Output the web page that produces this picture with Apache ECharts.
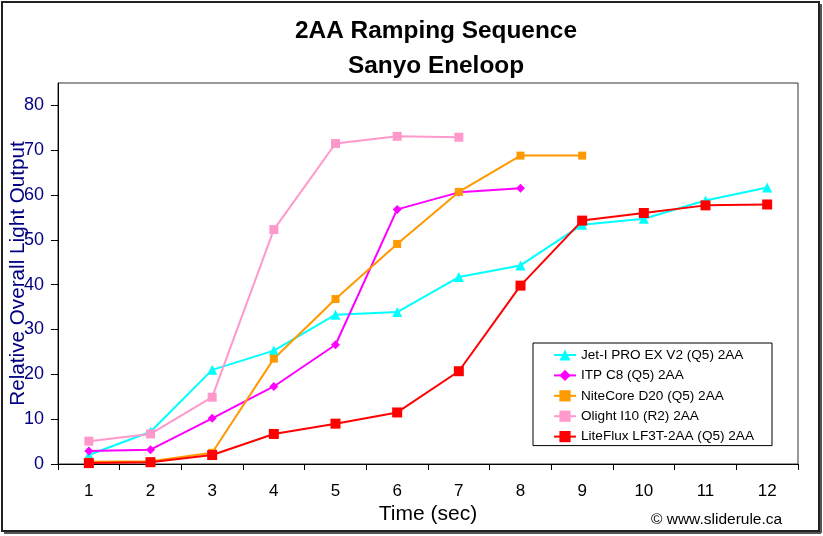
<!DOCTYPE html>
<html><head><meta charset="utf-8">
<script src="https://cdn.jsdelivr.net/npm/echarts@6/dist/echarts.min.js"></script>
<style>html,body{margin:0;padding:0;background:#fff}#c{width:823px;height:536px}</style>
</head><body><div id="c"></div>
<script>
const categories = ['1','2','3','4','5','6','7','8','9','10','11','12'];
const yTicks = [0, 10, 20, 30, 40, 50, 60, 70, 80];
const jetI = [2.0, 7.2, 21.0, 25.3, 33.3, 33.9, 41.7, 44.3, 53.4, 54.7, 58.8, 61.7];
const itpC8 = [2.9, 3.2, 10.2, 17.3, 26.6, 56.8, 60.6, 61.5];
const niteCore = [0.5, 0.6, 2.5, 23.5, 36.8, 49.1, 60.7, 68.8, 68.8];
const olight = [5.1, 6.7, 14.9, 52.3, 71.5, 73.1, 72.9];
const liteFlux = [0.2, 0.4, 2.0, 6.7, 9.0, 11.5, 20.7, 39.8, 54.3, 56.0, 57.7, 57.9];
const seriesNames = ['Jet-I PRO EX V2 (Q5) 2AA','ITP C8 (Q5) 2AA','NiteCore D20 (Q5) 2AA','Olight I10 (R2) 2AA','LiteFlux LF3T-2AA (Q5) 2AA'];

const font = 'Liberation Sans, Arial, sans-serif';
const chart = echarts.init(document.getElementById('c'));
function mk(name, data, color, symbol, size){
  return {name, type:'line', data, color, symbol, symbolSize:size, showSymbol:true,
    lineStyle:{width:2, color}, itemStyle:{color}, animation:false, z: 3};
}
chart.setOption({
  animation:false,
  backgroundColor:'#fff',
  title:{text:'2AA Ramping Sequence\nSanyo Eneloop', left:431, top:9, textAlign:'center',
    textStyle:{fontFamily:font, fontSize:24.4, fontWeight:'bold', color:'#000', lineHeight:35}},
  grid:{left:58, top:83, right:25, bottom:72, show:true, borderColor:'#333', borderWidth:1,
    containLabel:false, outerBoundsMode:'none'},
  legend:{orient:'vertical', left:533, top:343, padding:[5,18,2,20], itemGap:6.4, itemWidth:22, itemHeight:14,
    borderColor:'#000', borderWidth:1, backgroundColor:'#fff',
    textStyle:{fontFamily:font, fontSize:13.6, color:'#000'}, data:seriesNames},
  xAxis:{type:'category', data:categories, boundaryGap:true,
    name:'Time (sec)', nameLocation:'middle', nameGap:40, nameMoveOverlap:false,
    nameTextStyle:{fontFamily:font, fontSize:21, color:'#000'},
    axisLine:{lineStyle:{color:'#000', width:1}},
    axisTick:{show:true, length:6, lineStyle:{color:'#000'}},
    axisLabel:{fontFamily:font, fontSize:17, color:'#000', margin:19},
    splitLine:{show:false}},
  yAxis:{type:'value', min:0, max:85,
    name:'Relative Overall Light Output', nameLocation:'middle', nameGap:29, nameMoveOverlap:false,
    nameTextStyle:{fontFamily:font, fontSize:20.7, color:'#000080'},
    axisLine:{show:true, lineStyle:{color:'#000', width:1}},
    axisTick:{show:true, length:7, lineStyle:{color:'#000'}, customValues:yTicks},
    axisLabel:{fontFamily:font, fontSize:18, color:'#000080', margin:14, customValues:yTicks},
    splitLine:{show:false}},
  graphic:[
    {type:'rect', shape:{x:2, y:2, width:817, height:529}, style:{fill:'none', stroke:'#222', lineWidth:2}, z:100},
    {type:'line', shape:{x1:821, y1:4, x2:821, y2:533}, style:{stroke:'#555', lineWidth:2}, z:100},
    {type:'line', shape:{x1:4, y1:533, x2:821, y2:533}, style:{stroke:'#555', lineWidth:2}, z:100},
    {type:'text', left:651, top:512, style:{text:'\u00a9 www.sliderule.ca', font:'15.5px '+font, fill:'#000'}}
  ],
  series:[
    mk(seriesNames[0], jetI, '#00FFFF', 'triangle', 10),
    mk(seriesNames[1], itpC8, '#FF00FF', 'diamond', 9),
    mk(seriesNames[2], niteCore, '#FF9900', 'rect', 8),
    mk(seriesNames[3], olight, '#FF99CC', 'rect', 9),
    mk(seriesNames[4], liteFlux, '#FF0000', 'rect', 10)
  ]
});
</script></body></html>
